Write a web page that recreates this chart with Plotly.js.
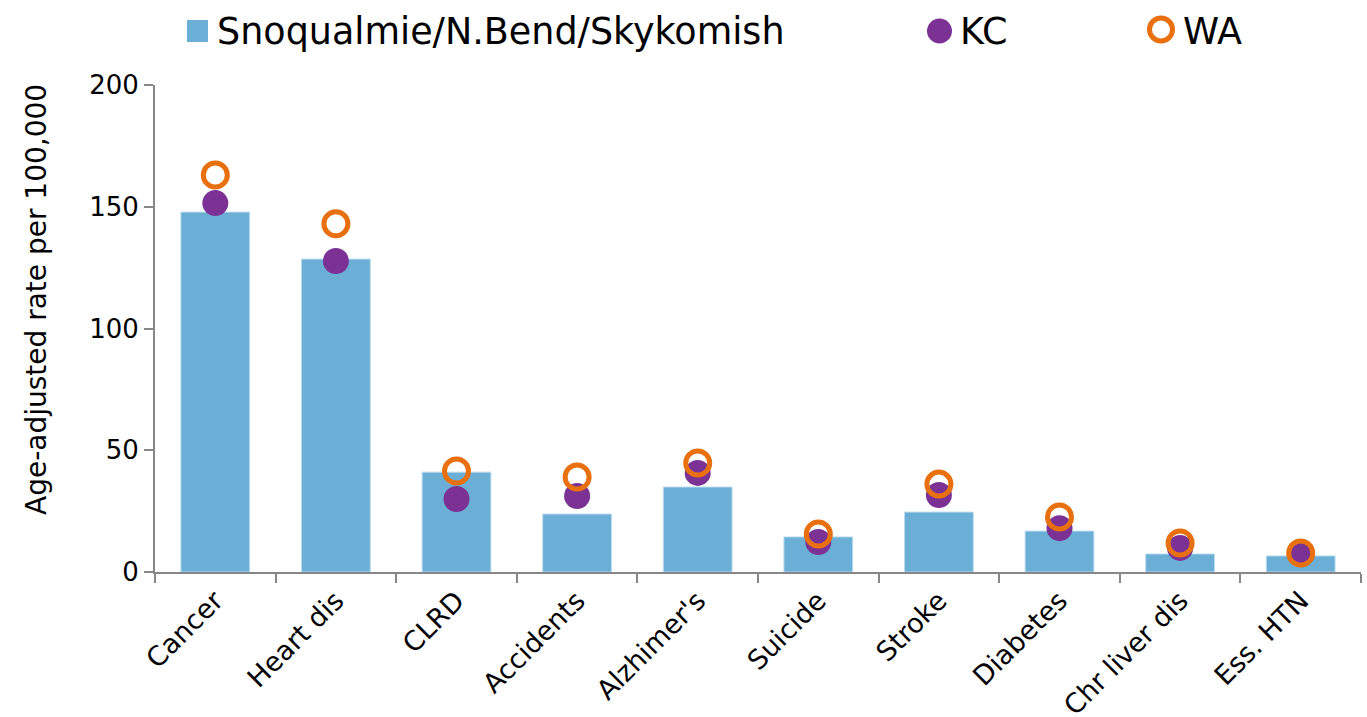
<!DOCTYPE html>
<html>
<head>
<meta charset="utf-8">
<script src="https://cdn.plot.ly/plotly-3.0.1.min.js"></script>
<style>html,body{margin:0;padding:0;background:#fff;}#chart{width:1367px;height:717px;}</style>
</head>
<body>
<div id="chart"></div>
<script>
const categories = ["Cancer","Heart dis","CLRD","Accidents","Alzhimer's","Suicide","Stroke","Diabetes","Chr liver dis","Ess. HTN"];
const localRates = [147.8, 128.5, 41.0, 23.8, 34.9, 14.4, 24.6, 16.8, 7.4, 6.6];
const kcRates    = [151.5, 127.7, 30.0, 31.2, 40.7, 12.3, 31.6, 18.0, 9.9, 7.4];
const waRates    = [163.0, 143.0, 41.5, 39.0, 44.8, 15.6, 36.1, 22.6, 11.9, 7.8];
const seriesNames = ["Snoqualmie/N.Bend/Skykomish", "KC", "WA"];
const yTicks = [0, 50, 100, 150, 200];
const yTitle = "Age-adjusted rate per 100,000";

const FONT = "DejaVu Sans, sans-serif";
const BLUE = "#6baed6", PURPLE = "#7b3294", ORANGE = "#e8700e", AX = "#878787";

const traces = [
  {type:"bar", x:categories, y:localRates, name:seriesNames[0], showlegend:false,
   marker:{color:BLUE, line:{color:"#b9dbee", width:1}}},
  {type:"scatter", mode:"markers", x:categories, y:kcRates, name:seriesNames[1], showlegend:false,
   marker:{symbol:"circle", size:26, color:PURPLE}},
  {type:"scatter", mode:"markers", x:categories, y:waRates, name:seriesNames[2], showlegend:false,
   marker:{symbol:"circle-open", size:24, color:ORANGE, line:{width:5, color:ORANGE}}}
];

// custom legend (symbols drawn larger than Plotly's legend allows)
const W = 1367, H = 717, mL = 155, mR = 6, mT = 85, mB = 145;
const pw = W - mL - mR, ph = H - mT - mB;
const px = v => (v - mL) / pw;
const py = v => (H - mB - v) / ph;
const legY = 31;
const shapes = [
  {type:"rect", xref:"paper", yref:"paper", xsizemode:"pixel", ysizemode:"pixel",
   xanchor:px(197.5), yanchor:py(legY), x0:-10.5, x1:10.5, y0:-11, y1:11,
   fillcolor:BLUE, line:{width:0}},
  {type:"circle", xref:"paper", yref:"paper", xsizemode:"pixel", ysizemode:"pixel",
   xanchor:px(939.5), yanchor:py(legY), x0:-12.5, x1:12.5, y0:-12.5, y1:12.5,
   fillcolor:PURPLE, line:{width:0}},
  {type:"circle", xref:"paper", yref:"paper", xsizemode:"pixel", ysizemode:"pixel",
   xanchor:px(1161), yanchor:py(29.5), x0:-11.5, x1:11.5, y0:-11.5, y1:11.5,
   fillcolor:"rgba(0,0,0,0)", line:{width:5, color:ORANGE}}
];
const legX = [215, 958, 1181];
const annotations = seriesNames.map((n, i) => ({
  text:n, xref:"paper", yref:"paper", x:px(legX[i]), y:py(legY), xanchor:"left", yanchor:"middle",
  showarrow:false, font:{family:FONT, size:36.5, color:"#000"}
}));
annotations.push({
  text:yTitle, xref:"paper", yref:"paper", x:px(36), y:py(300), xanchor:"center", yanchor:"middle",
  textangle:-90, showarrow:false, font:{family:FONT, size:28, color:"#000"}
});

const layout = {
  width:W, height:H,
  margin:{l:mL, r:mR, t:mT, b:mB},
  paper_bgcolor:"#fff", plot_bgcolor:"#fff",
  font:{family:FONT, color:"#000"},
  bargap:0.43,
  showlegend:false,
  xaxis:{type:"category", range:[-0.5, categories.length - 0.5], showgrid:false, zeroline:false,
         showline:true, linecolor:AX, linewidth:2,
         ticks:"outside", tickson:"boundaries", ticklen:9, tickwidth:2, tickcolor:AX,
         tickangle:-45, tickfont:{family:FONT, size:27, color:"#000"}},
  yaxis:{range:[0,200], tickvals:yTicks, ticktext:yTicks.map(String), showgrid:false, zeroline:false,
         showline:true, linecolor:AX, linewidth:2, ticks:"outside", ticklen:9, tickwidth:2, tickcolor:AX,
         tickfont:{family:FONT, size:26, color:"#000"}},
  shapes:shapes,
  annotations:annotations
};

Plotly.newPlot("chart", traces, layout, {displayModeBar:false, staticPlot:true});
</script>
</body>
</html>
